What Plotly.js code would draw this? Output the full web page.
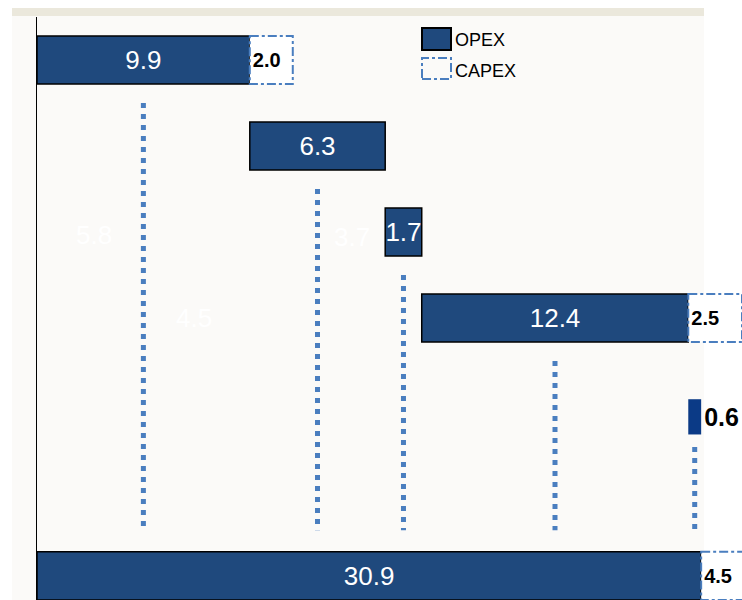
<!DOCTYPE html>
<html>
<head>
<meta charset="utf-8">
<script src="https://cdn.plot.ly/plotly-3.0.1.min.js"></script>
<style>html,body{margin:0;padding:0;background:#fff;}#chart{width:742px;height:600px;}</style>
</head>
<body>
<div id="chart"></div>
<script>
// ---- data ----
const opexSteps = [9.9, 6.3, 1.7, 12.4, 0.6];
const opexTotal = 30.9;
const capexSteps = [2.0, 2.5];
const capexAfterStep = [0, 3];
const capexTotal = 4.5;
const hiddenLabels = ['5.8', '4.5', '3.7'];
const legendNames = ['OPEX', 'CAPEX'];

// ---- derived ----
const stepRows = opexSteps.map((_, i) => i);
const totalRow = 6;
const bases = [];
let acc = 0;
opexSteps.forEach(v => { bases.push(acc); acc += v; });
const opexX = opexSteps.concat([opexTotal]);
const opexBase = bases.concat([0]);
const opexY = stepRows.concat([totalRow]);
const lastStep = opexSteps.length - 1;

const capexX = capexSteps.concat([capexTotal]);
const capexBase = capexAfterStep.map(i => bases[i] + opexSteps[i]).concat([opexTotal]);
const capexY = capexAfterStep.concat([totalRow]);

const BAR_W = 0.56;
const widths = opexX.map((_, i) => i === lastStep ? 0.41 : BAR_W);
const offsets = opexX.map((_, i) => i === lastStep ? -0.055 : -BAR_W / 2);

const FONT = 'Liberation Sans, Arial, sans-serif';
const DARK = '#1f497d';
const LIGHT = '#4a7ebf';

const opexTrace = {
  type: 'bar', orientation: 'h',
  x: opexX, y: opexY, base: opexBase,
  width: widths, offset: offsets,
  marker: {
    color: opexX.map((_, i) => i === lastStep ? '#0b3a86' : DARK),
    line: { color: '#000', width: opexX.map((_, i) => i === lastStep ? 0 : 1.5) }
  },
  text: opexX.map(v => v.toFixed(1)),
  textposition: opexX.map((_, i) => i === lastStep ? 'outside' : 'inside'),
  textangle: 0,
  insidetextanchor: 'middle',
  constraintext: 'none',
  insidetextfont: { family: FONT, size: 26, color: '#ffffff' },
  outsidetextfont: { family: FONT, size: 25, color: '#000000', weight: 'bold' },
  cliponaxis: true,
  hoverinfo: 'skip', showlegend: false
};

const capexTrace = {
  type: 'bar', orientation: 'h',
  x: capexX, y: capexY, base: capexBase,
  width: BAR_W, offset: -BAR_W / 2,
  marker: { color: '#ffffff', line: { width: 0 } },
  text: capexX.map(v => v.toFixed(1)),
  textposition: 'inside',
  textangle: 0,
  insidetextanchor: 'start',
  constraintext: 'none',
  insidetextfont: { family: FONT, size: 20, color: '#000000', weight: 'bold' },
  hoverinfo: 'skip', showlegend: false
};

// drop lines from the centre of each step
const DROP_END = 5.47;
const dropX = [], dropY = [];
opexSteps.forEach((v, i) => {
  const c = bases[i] + v / 2;
  dropX.push(c, c, null);
  dropY.push(stepRows[i] + 0.5, DROP_END, null);
});
const dropTrace = {
  type: 'scatter', mode: 'lines', x: dropX, y: dropY,
  line: { color: LIGHT, width: 5, dash: '5px,6px' },
  hoverinfo: 'skip', showlegend: false, cliponaxis: false
};

const shapes = [];
const px2x = p => (p - 37) / 705;
const py2y = p => 1 - (p - 17) / 583;
// background panel
shapes.push({ type: 'rect', xref: 'paper', yref: 'paper', layer: 'below',
  x0: px2x(12), x1: px2x(704), y0: py2y(600), y1: py2y(16),
  fillcolor: '#fbfaf8', line: { width: 0 } });
shapes.push({ type: 'rect', xref: 'paper', yref: 'paper', layer: 'below',
  x0: px2x(12), x1: px2x(704), y0: py2y(16), y1: py2y(8),
  fillcolor: '#ebe8dc', line: { width: 0 } });
// dashed outlines for CAPEX boxes
capexX.forEach((v, i) => {
  shapes.push({ type: 'rect', xref: 'x', yref: 'y', layer: 'above',
    x0: capexBase[i], x1: capexBase[i] + v,
    y0: capexY[i] - BAR_W / 2, y1: capexY[i] + BAR_W / 2,
    fillcolor: 'rgba(0,0,0,0)',
    line: { color: LIGHT, width: 2, dash: 'dashdot' } });
});
// legend symbols
shapes.push({ type: 'rect', xref: 'paper', yref: 'paper', layer: 'above',
  x0: px2x(422), x1: px2x(451), y0: py2y(50), y1: py2y(28),
  fillcolor: DARK, line: { color: '#000', width: 2 } });
shapes.push({ type: 'rect', xref: 'paper', yref: 'paper', layer: 'above',
  x0: px2x(422), x1: px2x(451), y0: py2y(79), y1: py2y(58),
  fillcolor: 'rgba(0,0,0,0)', line: { color: LIGHT, width: 2, dash: 'dashdot' } });

const annotations = [
  { xref: 'paper', yref: 'paper', x: px2x(453), y: py2y(40), xanchor: 'left', yanchor: 'middle',
    text: legendNames[0], showarrow: false, font: { family: FONT, size: 18, color: '#000' } },
  { xref: 'paper', yref: 'paper', x: px2x(453), y: py2y(71), xanchor: 'left', yanchor: 'middle',
    text: legendNames[1], showarrow: false, font: { family: FONT, size: 18, color: '#000' } },
  { xref: 'paper', yref: 'paper', x: px2x(94), y: py2y(235), xanchor: 'center', yanchor: 'middle',
    text: hiddenLabels[0], showarrow: false, font: { family: FONT, size: 26, color: '#ffffff' } },
  { xref: 'paper', yref: 'paper', x: px2x(194), y: py2y(318), xanchor: 'center', yanchor: 'middle',
    text: hiddenLabels[1], showarrow: false, font: { family: FONT, size: 26, color: '#ffffff' } },
  { xref: 'paper', yref: 'paper', x: px2x(352), y: py2y(237), xanchor: 'center', yanchor: 'middle',
    text: hiddenLabels[2], showarrow: false, font: { family: FONT, size: 26, color: '#ffffff' } }
];

const layout = {
  width: 742, height: 600,
  margin: { l: 37, r: 0, t: 17, b: 0, pad: 0 },
  paper_bgcolor: '#ffffff', plot_bgcolor: 'rgba(0,0,0,0)',
  barmode: 'overlay',
  showlegend: false,
  xaxis: { range: [0, 32.8], visible: false, fixedrange: true },
  yaxis: { range: [6.28, -0.5], showgrid: false, zeroline: false, showticklabels: false,
    ticks: '', showline: true, linecolor: '#000', linewidth: 1.5, fixedrange: true },
  shapes: shapes,
  annotations: annotations,
  font: { family: FONT }
};

Plotly.newPlot('chart', [dropTrace, opexTrace, capexTrace], layout, { displayModeBar: false, staticPlot: true });
</script>
</body>
</html>
